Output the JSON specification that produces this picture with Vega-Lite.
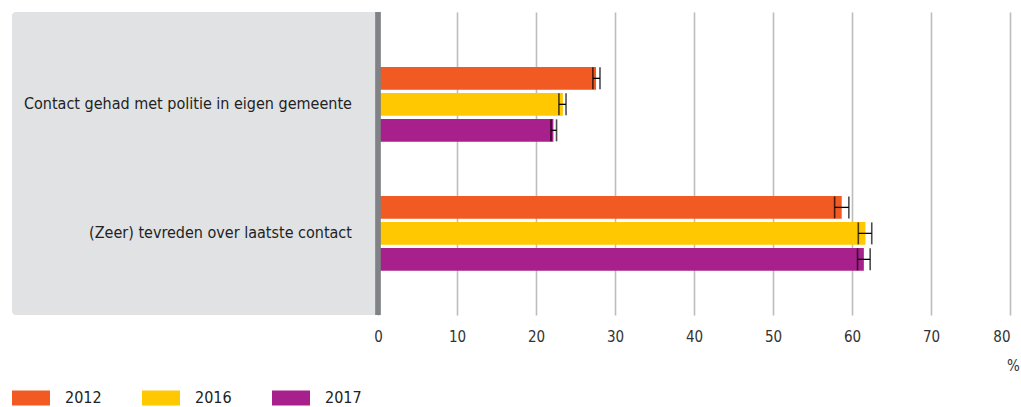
{
  "$schema": "https://vega.github.io/schema/vega-lite/v6.json",
  "autosize": {"type": "none"},
  "width": 998,
  "height": 303,
  "padding": {"left": 12, "top": 12, "right": 11, "bottom": 92},
  "background": "#ffffff",
  "config": {
    "view": {"stroke": null},
    "font": "DejaVu Sans Condensed",
    "axis": {"labelFont": "DejaVu Sans Condensed", "titleFont": "DejaVu Sans Condensed"},
    "legend": {"labelFont": "DejaVu Sans Condensed"}
  },
  "data": {
    "values": [
      {"categorie": "Contact gehad met politie in eigen gemeente", "jaar": "2012", "waarde": 27.6, "laag": 27.2, "hoog": 28.1},
      {"categorie": "Contact gehad met politie in eigen gemeente", "jaar": "2016", "waarde": 23.4, "laag": 22.9, "hoog": 23.8},
      {"categorie": "Contact gehad met politie in eigen gemeente", "jaar": "2017", "waarde": 22.2, "laag": 21.9, "hoog": 22.6},
      {"categorie": "(Zeer) tevreden over laatste contact", "jaar": "2012", "waarde": 58.7, "laag": 57.8, "hoog": 59.6},
      {"categorie": "(Zeer) tevreden over laatste contact", "jaar": "2016", "waarde": 61.7, "laag": 60.8, "hoog": 62.5},
      {"categorie": "(Zeer) tevreden over laatste contact", "jaar": "2017", "waarde": 61.5, "laag": 60.7, "hoog": 62.3}
    ]
  },
  "encoding": {
    "y": {
      "field": "categorie",
      "type": "nominal",
      "sort": ["Contact gehad met politie in eigen gemeente", "(Zeer) tevreden over laatste contact"],
      "scale": {"paddingInner": 0.42, "paddingOuter": 0.384, "align": 0.554},
      "axis": null
    }
  },
  "layer": [
    {
      "mark": {"type": "rect", "color": "#e1e2e4", "cornerRadiusTopLeft": 5, "cornerRadiusBottomLeft": 5},
      "encoding": {
        "x": {"datum": -46.33, "type": "quantitative"},
        "x2": {"datum": 0},
        "y": null
      }
    },
    {
      "mark": {"type": "bar"},
      "encoding": {
        "x": {
          "field": "waarde",
          "type": "quantitative",
          "scale": {"domain": [-46.33, 80], "nice": false, "zero": false},
          "axis": {
            "values": [0, 10, 20, 30, 40, 50, 60, 70, 80],
            "grid": true,
            "gridColor": "#bdbdbd",
            "gridWidth": 1.6,
            "domain": false,
            "ticks": false,
            "labelPadding": 14,
            "labelFontSize": 15,
            "labelColor": "#333333",
            "title": "%",
            "titleFontSize": 15,
            "titleFontWeight": "normal",
            "titleColor": "#333333",
            "titleX": 1001,
            "titleY": 50,
            "titleAlign": "center",
            "titleBaseline": "middle"
          }
        },
        "yOffset": {"field": "jaar", "type": "nominal", "scale": {"paddingInner": 0.12, "paddingOuter": 0}},
        "color": {
          "field": "jaar",
          "type": "nominal",
          "scale": {"domain": ["2012", "2016", "2017"], "range": ["#f15a22", "#ffc800", "#a8208c"]},
          "legend": {
            "title": null,
            "orient": "none",
            "legendX": 0,
            "legendY": 367,
            "direction": "horizontal",
            "columns": 3,
            "columnPadding": 40,
            "symbolType": "M-1,-0.4H1V0.4H-1Z",
            "symbolSize": 1444,
            "symbolStrokeWidth": 0,
            "labelFontSize": 16,
            "labelColor": "#222222",
            "labelOffset": 15
          }
        }
      }
    },
    {
      "mark": {"type": "rule", "color": "#000000", "strokeWidth": 1.3},
      "encoding": {
        "x": {"field": "laag", "type": "quantitative"},
        "x2": {"field": "hoog"},
        "yOffset": {"field": "jaar", "type": "nominal"}
      }
    },
    {
      "mark": {"type": "tick", "orient": "vertical", "color": "#000000", "thickness": 1.6, "size": 22},
      "encoding": {
        "x": {"field": "laag", "type": "quantitative"},
        "yOffset": {"field": "jaar", "type": "nominal"}
      }
    },
    {
      "mark": {"type": "tick", "orient": "vertical", "color": "#000000", "thickness": 1.6, "size": 22},
      "encoding": {
        "x": {"field": "hoog", "type": "quantitative"},
        "yOffset": {"field": "jaar", "type": "nominal"}
      }
    },
    {
      "mark": {"type": "rule", "color": "#7f8287", "strokeWidth": 4.5},
      "encoding": {"x": {"datum": 0, "type": "quantitative"}, "y": null}
    },
    {
      "transform": [{"filter": "datum.jaar == '2012'"}],
      "mark": {"type": "text", "align": "right", "baseline": "middle", "fontSize": 16, "color": "#222222", "dx": 0},
      "encoding": {
        "x": {"datum": -3.3, "type": "quantitative"},
        "text": {"field": "categorie"}
      }
    }
  ]
}
